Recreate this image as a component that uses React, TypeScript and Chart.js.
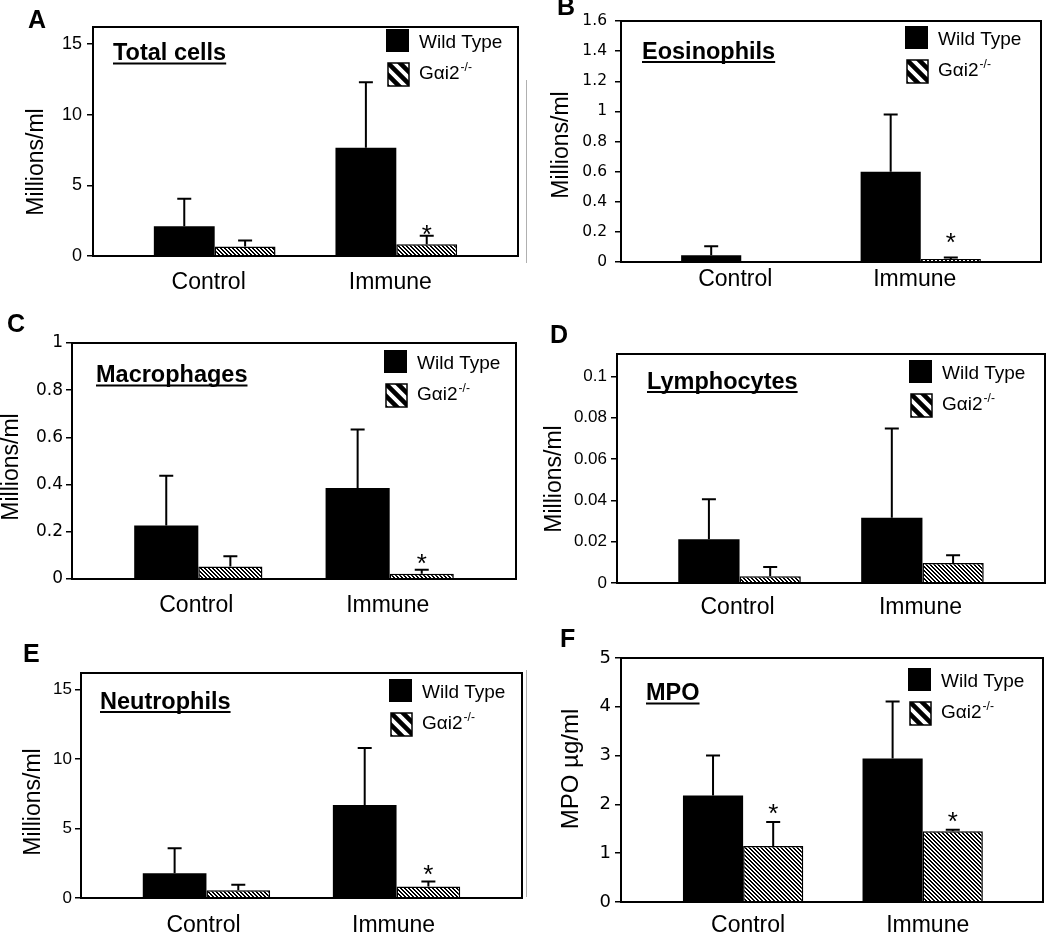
import React, { useEffect, useRef } from 'react';
import { Chart, registerables } from 'chart.js';

Chart.register(...registerables);

// ---------- data ----------
const categories = ['Control', 'Immune'];
const wtName = 'Wild Type';
const koName = 'Gαi2';
const koSup = '-/-';

// A – Total cells
const totalWT = [2.1, 7.65];
const totalWTErr = [1.95, 4.65];
const totalKO = [0.68, 0.83];
const totalKOErr = [0.42, 0.6];
const totalSig = [false, true];
const totalTicks = [0, 5, 10, 15];

// B – Eosinophils
const eosWT = [0.045, 0.6];
const eosWTErr = [0.06, 0.38];
const eosKO = [0.006, 0.02];
const eosKOErr = [0, 0.01];
const eosSig = [false, true];
const eosTicks = [0, 0.2, 0.4, 0.6, 0.8, 1, 1.2, 1.4, 1.6];

// C – Macrophages
const macWT = [0.227, 0.386];
const macWTErr = [0.21, 0.247];
const macKO = [0.053, 0.022];
const macKOErr = [0.043, 0.017];
const macSig = [false, true];
const macTicks = [0, 0.2, 0.4, 0.6, 0.8, 1];

// D – Lymphocytes
const lymWT = [0.0212, 0.0316];
const lymWTErr = [0.0194, 0.0432];
const lymKO = [0.0033, 0.0097];
const lymKOErr = [0.0045, 0.0037];
const lymSig = [false, false];
const lymTicks = [0, 0.02, 0.04, 0.06, 0.08, 0.1];

// E – Neutrophils
const neuWT = [1.79, 6.7];
const neuWTErr = [1.8, 4.1];
const neuKO = [0.55, 0.83];
const neuKOErr = [0.4, 0.36];
const neuSig = [false, true];
const neuTicks = [0, 5, 10, 15];

// F – MPO
const mpoWT = [2.18, 2.94];
const mpoWTErr = [0.82, 1.17];
const mpoKO = [1.15, 1.45];
const mpoKOErr = [0.49, 0.03];
const mpoSig = [true, true];
const mpoTicks = [0, 1, 2, 3, 4, 5];

// ---------- layout / styling ----------
const SANS = "'Liberation Sans', Arial, sans-serif";
const DEJAVU = "'DejaVu Sans', sans-serif";

const panels = [
  {
    letter: 'A', title: 'Total cells', yTitle: 'Millions/ml',
    wt: totalWT, wtErr: totalWTErr, ko: totalKO, koErr: totalKOErr, sig: totalSig, yTicks: totalTicks, yMax: 16.2,
    lay: { ox: 0, oy: 0, w: 525, h: 300, L: 93, T: 27, R: 518, B: 256, H: 40, xMin: 0.33, xMax: 2.67,
      tickFont: { family: SANS, size: 18 }, tickPad: 5, catPad: 13, catOffset: -6,
      letterXY: [28, 28], yTitleC: [37, 162], yTitleSize: 23, titleXY: [113, 60], legendXY: [386, 29], starGap: 8 },
  },
  {
    letter: 'B', title: 'Eosinophils', yTitle: 'Millions/ml',
    wt: eosWT, wtErr: eosWTErr, ko: eosKO, koErr: eosKOErr, sig: eosSig, yTicks: eosTicks, yMax: 1.6,
    lay: { ox: 525, oy: 0, w: 525, h: 300, L: 621, T: 21, R: 1041, B: 262, H: 36, xMin: 0.33, xMax: 2.67,
      tickFont: { family: DEJAVU, size: 15.5 }, tickPad: 8, catPad: 4, catOffset: -6,
      letterXY: [557, 15], yTitleC: [562, 145], yTitleSize: 23, titleXY: [642, 58.5], legendXY: [905, 26], starGap: 21 },
  },
  {
    letter: 'C', title: 'Macrophages', yTitle: 'Millions/ml',
    wt: macWT, wtErr: macWTErr, ko: macKO, koErr: macKOErr, sig: macSig, yTicks: macTicks, yMax: 1,
    lay: { ox: 0, oy: 300, w: 525, h: 320, L: 72, T: 343, R: 516, B: 579, H: 36, xMin: 0.34, xMax: 2.66,
      tickFont: { family: DEJAVU, size: 17 }, tickPad: 3, catPad: 13, catOffset: -2,
      letterXY: [7, 332], yTitleC: [12, 467], yTitleSize: 23, titleXY: [96, 382], legendXY: [384, 350], starGap: 13 },
  },
  {
    letter: 'D', title: 'Lymphocytes', yTitle: 'Millions/ml',
    wt: lymWT, wtErr: lymWTErr, ko: lymKO, koErr: lymKOErr, sig: lymSig, yTicks: lymTicks, yMax: 0.1109,
    lay: { ox: 525, oy: 300, w: 525, h: 320, L: 617, T: 354, R: 1045, B: 583, H: 36, xMin: 0.33, xMax: 2.67,
      tickFont: { family: SANS, size: 17 }, tickPad: 4, catPad: 11, catOffset: -2,
      letterXY: [550, 343], yTitleC: [555, 479], yTitleSize: 23, titleXY: [647, 388.5], legendXY: [909, 360], starGap: 13 },
  },
  {
    letter: 'E', title: 'Neutrophils', yTitle: 'Millions/ml',
    wt: neuWT, wtErr: neuWTErr, ko: neuKO, koErr: neuKOErr, sig: neuSig, yTicks: neuTicks, yMax: 16.2,
    lay: { ox: 0, oy: 620, w: 525, h: 316, L: 81, T: 673, R: 522, B: 898, H: 36, xMin: 0.34, xMax: 2.66,
      tickFont: { family: SANS, size: 17 }, tickPad: 3, catPad: 14, catOffset: -3,
      letterXY: [23, 662], yTitleC: [34, 802], yTitleSize: 23, titleXY: [100, 708.5], legendXY: [389, 679], starGap: 13 },
  },
  {
    letter: 'F', title: 'MPO', yTitle: 'MPO µg/ml',
    wt: mpoWT, wtErr: mpoWTErr, ko: mpoKO, koErr: mpoKOErr, sig: mpoSig, yTicks: mpoTicks, yMax: 5,
    lay: { ox: 525, oy: 620, w: 525, h: 316, L: 621, T: 658, R: 1043, B: 902, H: 34, xMin: 0.32, xMax: 2.67,
      tickFont: { family: DEJAVU, size: 18 }, tickPad: 4, catPad: 10, catOffset: 5,
      letterXY: [560, 647], yTitleC: [571, 769], yTitleSize: 24, titleXY: [646, 700], legendXY: [908, 668], starGap: 15 },
  },
];

function makeBarHatch(): CanvasPattern | string {
  const s = 4;
  const c = document.createElement('canvas');
  c.width = s; c.height = s;
  const g = c.getContext('2d');
  if (!g) return '#888';
  g.fillStyle = '#fff';
  g.fillRect(0, 0, s, s);
  g.fillStyle = '#000';
  for (let y = 0; y < s; y++) {
    g.fillRect(y % s, y, 1, 1);
    g.fillRect((y + 1) % s, y, 1, 1);
  }
  return g.createPattern(c, 'repeat') || '#888';
}

function overlayPlugin(p: any) {
  return {
    id: 'overlay' + p.letter,
    afterDatasetsDraw(chart: any) {
      const ctx = chart.ctx as CanvasRenderingContext2D;
      const ca = chart.chartArea;
      const ys = chart.scales.y;
      const lay = p.lay;
      const lx = (x: number) => x - lay.ox;
      const ly = (y: number) => y - lay.oy;
      const vals = [p.wt, p.ko];
      const errs = [p.wtErr, p.koErr];
      ctx.save();

      // error bars + asterisks
      ctx.strokeStyle = '#000';
      ctx.fillStyle = '#000';
      ctx.lineWidth = 2;
      for (let d = 0; d < 2; d++) {
        const meta = chart.getDatasetMeta(d);
        meta.data.forEach((el: any, j: number) => {
          const e = errs[d][j];
          const yt = ys.getPixelForValue(vals[d][j] + e);
          if (e > 0) {
            ctx.beginPath();
            ctx.moveTo(el.x, el.y);
            ctx.lineTo(el.x, yt);
            ctx.moveTo(el.x - 7, yt);
            ctx.lineTo(el.x + 7, yt);
            ctx.stroke();
          }
          if (d === 1 && p.sig[j]) {
            const size = 26;
            ctx.font = `${size}px ${SANS}`;
            ctx.textAlign = 'center';
            ctx.textBaseline = 'alphabetic';
            ctx.fillText('*', el.x, yt - lay.starGap + 0.575 * size);
          }
        });
      }

      // plot box
      ctx.lineWidth = 2;
      ctx.strokeStyle = '#000';
      ctx.strokeRect(ca.left, ca.top, ca.right - ca.left, ca.bottom - ca.top);

      // panel letter
      ctx.fillStyle = '#000';
      ctx.textAlign = 'left';
      ctx.textBaseline = 'alphabetic';
      ctx.font = `bold 25px ${SANS}`;
      ctx.fillText(p.letter, lx(lay.letterXY[0]), ly(lay.letterXY[1]));

      // y axis title
      ctx.save();
      ctx.translate(lx(lay.yTitleC[0]), ly(lay.yTitleC[1]));
      ctx.rotate(-Math.PI / 2);
      ctx.font = `${lay.yTitleSize}px ${SANS}`;
      ctx.textAlign = 'center';
      ctx.textBaseline = 'middle';
      ctx.fillText(p.yTitle, 0, 0);
      ctx.restore();

      // underlined title
      ctx.font = `bold 23.5px ${SANS}`;
      ctx.textAlign = 'left';
      ctx.textBaseline = 'alphabetic';
      const tx = lx(lay.titleXY[0]);
      const tb = ly(lay.titleXY[1]);
      ctx.fillText(p.title, tx, tb);
      const tw = ctx.measureText(p.title).width;
      ctx.fillRect(tx, tb + 2.5, tw, 2);

      // legend
      const bx = lx(lay.legendXY[0]);
      const by = ly(lay.legendXY[1]);
      ctx.fillRect(bx, by, 23, 23);
      ctx.font = `19px ${SANS}`;
      ctx.fillText(wtName, bx + 33, by + 19);

      const hx = bx + 2, hy = by + 34, hw = 21, hh = 23;
      ctx.save();
      ctx.beginPath();
      ctx.rect(hx, hy, hw, hh);
      ctx.clip();
      ctx.fillStyle = '#fff';
      ctx.fillRect(hx, hy, hw, hh);
      ctx.strokeStyle = '#000';
      ctx.lineWidth = 4.6;
      ctx.beginPath();
      for (let k = -3; k <= 3; k++) {
        ctx.moveTo(hx + k * 12 - 2, hy - 2);
        ctx.lineTo(hx + k * 12 + hh + 2, hy + hh + 2);
      }
      ctx.stroke();
      ctx.restore();
      ctx.lineWidth = 1.5;
      ctx.strokeStyle = '#000';
      ctx.strokeRect(hx, hy, hw, hh);

      ctx.fillStyle = '#000';
      ctx.font = `19px ${SANS}`;
      ctx.fillText(koName, bx + 33, by + 50);
      const kw = ctx.measureText(koName).width;
      ctx.font = `12px ${SANS}`;
      ctx.fillText(koSup, bx + 33 + kw + 1, by + 42);

      ctx.restore();
    },
  };
}

function Panel({ p }: { p: any }) {
  const ref = useRef<HTMLCanvasElement | null>(null);
  useEffect(() => {
    const canvas = ref.current;
    if (!canvas) return;
    const lay = p.lay;
    const hatch = makeBarHatch();
    const chart = new Chart(canvas, {
      type: 'bar',
      data: {
        datasets: [
          {
            label: wtName,
            data: p.wt.map((v: number, i: number) => ({ x: i + 1, y: v })),
            backgroundColor: '#000',
            borderWidth: 0,
            categoryPercentage: 0.67,
            barPercentage: 1,
          },
          {
            label: koName + koSup,
            data: p.ko.map((v: number, i: number) => ({ x: i + 1, y: v })),
            backgroundColor: hatch,
            borderColor: '#000',
            borderWidth: 1.5,
            categoryPercentage: 0.67,
            barPercentage: 1,
          },
        ],
      } as any,
      options: {
        responsive: false,
        animation: false,
        devicePixelRatio: 1,
        layout: {
          padding: {
            left: 0,
            top: lay.T - lay.oy,
            right: lay.ox + lay.w - lay.R,
            bottom: lay.oy + lay.h - lay.B - lay.H,
          },
        },
        plugins: {
          legend: { display: false },
          tooltip: { enabled: false },
          title: { display: false },
        },
        scales: {
          x: {
            type: 'linear',
            min: lay.xMin,
            max: lay.xMax,
            offset: false,
            grid: { display: false, drawTicks: false, offset: false },
            border: { display: false },
            afterBuildTicks: (s: any) => {
              s.ticks = categories.map((_, i) => ({ value: i + 1 }));
            },
            afterFit: (s: any) => {
              s.height = lay.H;
            },
            ticks: {
              autoSkip: false,
              maxRotation: 0,
              minRotation: 0,
              padding: lay.catPad,
              labelOffset: lay.catOffset,
              color: '#000',
              font: { family: SANS, size: 23 },
              callback: (v: any) => categories[Math.round(Number(v)) - 1] ?? '',
            },
          },
          y: {
            type: 'linear',
            min: 0,
            max: p.yMax,
            grid: { display: true, drawOnChartArea: false, drawTicks: true, tickLength: 6, color: '#000', lineWidth: 1.5 },
            border: { display: false },
            afterBuildTicks: (s: any) => {
              s.ticks = p.yTicks.map((v: number) => ({ value: v }));
            },
            afterFit: (s: any) => {
              s.width = lay.L - lay.ox;
            },
            ticks: {
              padding: lay.tickPad,
              color: '#000',
              font: lay.tickFont,
              callback: (v: any) => String(v),
            },
          },
        },
      } as any,
      plugins: [overlayPlugin(p)],
    });
    return () => chart.destroy();
  }, [p]);
  const lay = p.lay;
  return (
    <canvas
      ref={ref}
      width={lay.w}
      height={lay.h}
      style={{ position: 'absolute', left: lay.ox, top: lay.oy, width: lay.w, height: lay.h, display: 'block' }}
    />
  );
}

export default function App() {
  return (
    <div style={{ position: 'absolute', left: 0, top: 0, width: 1050, height: 936, background: '#fff', overflow: 'hidden' }}>
      {panels.map((p) => (
        <Panel key={p.letter} p={p} />
      ))}
      <div style={{ position: 'absolute', left: 526, top: 80, width: 1, height: 183, background: '#b0b0b0' }} />
      <div style={{ position: 'absolute', left: 526, top: 670, width: 1, height: 227, background: '#b0b0b0' }} />
    </div>
  );
}
